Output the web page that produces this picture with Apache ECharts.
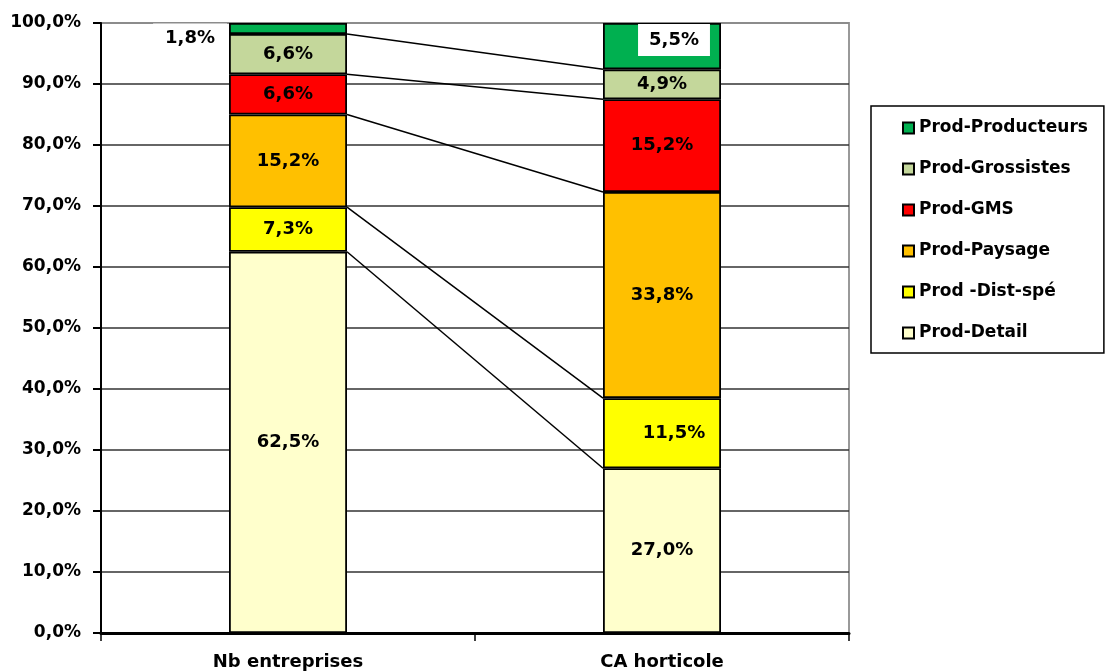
<!DOCTYPE html>
<html>
<head>
<meta charset="utf-8">
<script src="https://cdn.jsdelivr.net/npm/echarts@6/dist/echarts.min.js"></script>
<style>html,body{margin:0;padding:0;background:#fff;}#c{width:1105px;height:671px;}</style>
</head>
<body>
<div id="c"></div>
<script>
// ---- data ----
var categories = ['Nb entreprises', 'CA horticole'];
var seriesNames = ['Prod-Detail', 'Prod -Dist-spé', 'Prod-Paysage', 'Prod-GMS', 'Prod-Grossistes', 'Prod-Producteurs'];
var detail      = [62.5, 27.0];
var distSpe     = [7.3, 11.5];
var paysage     = [15.2, 33.8];
var gms         = [6.6, 15.2];
var grossistes  = [6.6, 4.9];
var producteurs = [1.8, 7.6];
var producteursLabels = ['1,8%', '5,5%'];
var yTicks = [0, 10, 20, 30, 40, 50, 60, 70, 80, 90, 100];

// ---- styling ----
var colors = ['#FFFFCC', '#FFFF00', '#FFC000', '#FF0000', '#C4D79B', '#00B050'];
var FONT = 'DejaVu Sans';
var gridLeft = 101, gridRight = 256, gridTop = 23, gridBottom = 37;
var barW = 118;
var gridW = 1105 - gridLeft - gridRight;
var halfBand = (barW / 2) / (gridW / categories.length);

var allData = [detail, distSpe, paysage, gms, grossistes, producteurs];

function fmt(v) { return v.toFixed(1).replace('.', ',') + '%'; }

var series = [];
allData.forEach(function (arr, si) {
  var data = arr.map(function (v, ci) {
    var item = { value: v };
    if (si === 5) {
      if (ci === 0) {
        item.label = { position: 'left', distance: 2, offset: [0, 10], backgroundColor: '#fff', padding: [6, 12, 6, 12] };
      } else {
        item.label = { position: 'insideTop', distance: 0, offset: [12, 1], backgroundColor: '#fff', padding: [7, 11, 7, 11] };
      }
    }
    if (si === 1 && ci === 1) {
      item.label = { offset: [12, 0] };
    }
    return item;
  });
  series.push({
    name: seriesNames[si],
    type: 'bar',
    stack: 'total',
    barWidth: barW,
    data: data,
    itemStyle: { color: colors[si], borderColor: '#000', borderWidth: 1.8 },
    label: {
      show: true,
      position: 'inside',
      color: '#000',
      fontFamily: FONT,
      fontWeight: 'bold',
      fontSize: 18,
      formatter: function (p) {
        if (si === 5) return producteursLabels[p.dataIndex];
        return fmt(p.value);
      }
    },
    emphasis: { disabled: true }
  });
});

// connector (series) lines between the bars at cumulative boundaries
var cumL = 0, cumR = 0;
for (var k = 0; k < allData.length - 1; k++) {
  cumL += allData[k][0];
  cumR += allData[k][1];
  series.push({
    type: 'line',
    xAxisIndex: 1,
    data: [[0.5 + halfBand, cumL], [1.5 - halfBand, cumR]],
    symbol: 'none',
    silent: true,
    lineStyle: { color: '#000', width: 1.5 },
    z: 1
  });
}

var splitColors = yTicks.map(function (t, i) { return i === yTicks.length - 1 ? '#888' : '#333'; });

var chart = echarts.init(document.getElementById('c'));
chart.setOption({
  animation: false,
  backgroundColor: '#fff',
  grid: {
    left: gridLeft, right: gridRight, top: gridTop, bottom: gridBottom,
    show: true, borderColor: '#999', borderWidth: 2
  },
  legend: {
    data: seriesNames.slice().reverse(),
    orient: 'vertical',
    left: 871,
    top: 106,
    padding: [12, 16, 10, 31],
    itemGap: 21,
    itemWidth: 11,
    itemHeight: 11,
    icon: 'rect',
    borderColor: '#000',
    borderWidth: 1.5,
    backgroundColor: '#fff',
    selectedMode: false,
    textStyle: { fontFamily: FONT, fontWeight: 'bold', fontSize: 17, color: '#000', lineHeight: 20 }
  },
  xAxis: [{
    type: 'category',
    data: categories,
    axisLine: { lineStyle: { color: '#000', width: 3 } },
    axisTick: { show: true, length: 8, lineStyle: { color: '#000', width: 1.5 } },
    axisLabel: { margin: 20, fontFamily: FONT, fontWeight: 'bold', fontSize: 18, color: '#000' },
    splitLine: { show: false }
  }, {
    type: 'value',
    min: 0, max: 2,
    show: false
  }],
  yAxis: {
    type: 'value',
    min: 0, max: 100, interval: 10,
    axisLine: { show: true, lineStyle: { color: '#000', width: 2 } },
    axisTick: { show: true, length: 8, lineStyle: { color: '#000', width: 2 } },
    axisLabel: { margin: 20, fontFamily: FONT, fontWeight: 'bold', fontSize: 17, color: '#000', formatter: fmt },
    splitLine: { show: true, lineStyle: { color: splitColors, width: 1.5 } }
  },
  series: series
});
</script>
</body>
</html>
